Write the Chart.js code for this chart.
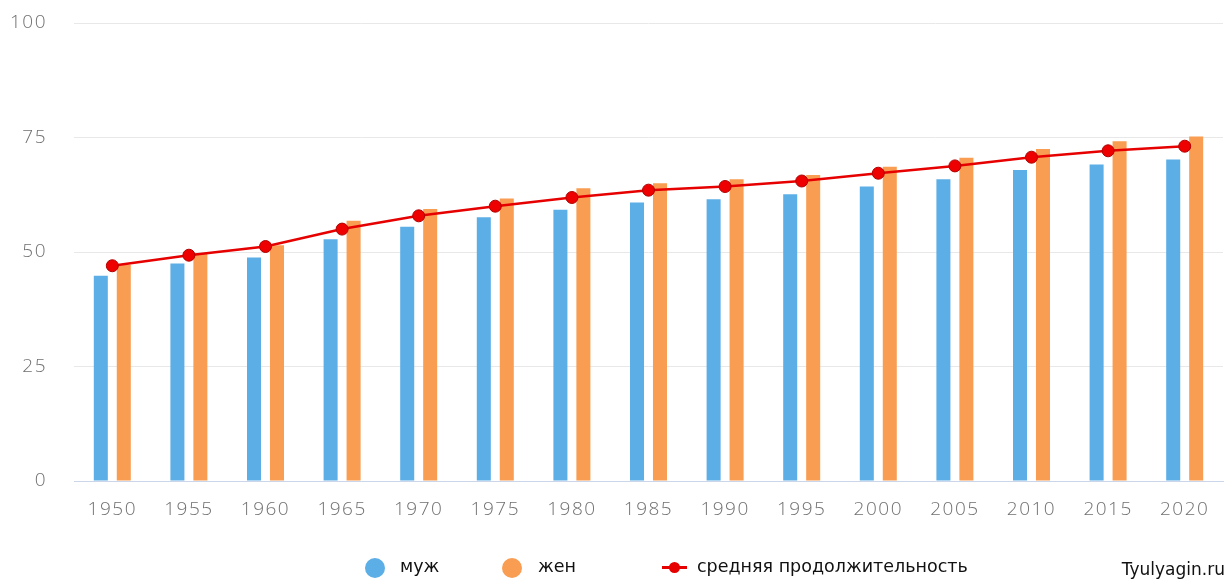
<!DOCTYPE html>
<html lang="ru">
<head>
    <meta charset="UTF-8">
    <title>Средняя продолжительность жизни</title>
    <script src="https://cdn.jsdelivr.net/npm/chart.js"></script>
    <style>
        body {
            margin: 0;
            background: #fff;
            font-family: "DejaVu Sans", Verdana, sans-serif;
        }
        .wrap {
            position: relative;
            width: 1231px;
            height: 587px;
        }
        .legend-item {
            position: absolute;
            top: 556px;
            height: 20px;
            line-height: 20px;
            font-size: 17.5px;
            color: #111;
            white-space: nowrap;
        }
        .dot {
            position: absolute;
            top: 2px;
            width: 20px;
            height: 20px;
            border-radius: 50%;
        }
        .line-mark {
            position: absolute;
            top: 10px;
            width: 25px;
            height: 3px;
            background: #e60000;
        }
        .line-mark::after {
            content: "";
            position: absolute;
            left: 7px;
            top: -4px;
            width: 11px;
            height: 11px;
            border-radius: 50%;
            background: #e60000;
        }
        .brand {
            position: absolute;
            right: 6px;
            top: 559px;
            font-size: 17px;
            color: #111;
        }
    </style>
</head>
<body>
    <div class="wrap">
        <canvas id="chart" width="1231" height="587"></canvas>
        <span class="dot" style="left:365px;top:558px;background:#5caee6"></span>
        <div class="legend-item" style="left:400px">муж</div>
        <span class="dot" style="left:502px;top:558px;background:#f99d52"></span>
        <div class="legend-item" style="left:538px">жен</div>
        <span class="line-mark" style="left:662px;top:566px"></span>
        <div class="legend-item" style="left:697px">средняя продолжительность</div>
        <div class="brand">Tyulyagin.ru</div>
    </div>

    <script>
        // Data
        const years = ['1950', '1955', '1960', '1965', '1970', '1975', '1980', '1985',
                       '1990', '1995', '2000', '2005', '2010', '2015', '2020'];
        const male = [44.8, 47.5, 48.8, 52.8, 55.5, 57.6, 59.2, 60.8, 61.5, 62.6, 64.3, 65.9, 67.9, 69.1, 70.2];
        const female = [47.2, 49.7, 51.5, 56.8, 59.4, 61.7, 63.9, 65.0, 65.9, 66.8, 68.6, 70.6, 72.5, 74.2, 75.2];
        const average = [47.0, 49.3, 51.2, 55.0, 57.9, 60.0, 61.9, 63.5, 64.3, 65.5, 67.2, 68.8, 70.7, 72.1, 73.1];
        const yTicks = [0, 25, 50, 75, 100];

        const tickFont = { family: 'Open Sans', size: 19, weight: 300 };

        // wider letter spacing for the axis labels
        const spacing = {
            id: 'spacing',
            beforeDraw(chart) { chart.ctx.letterSpacing = '1.5px'; },
            afterDraw(chart) { chart.ctx.letterSpacing = '0px'; }
        };

        const ctx = document.getElementById('chart').getContext('2d');
        new Chart(ctx, {
            type: 'bar',
            data: {
                labels: years,
                datasets: [
                    {
                        type: 'line',
                        label: 'средняя продолжительность',
                        data: average,
                        borderColor: '#e60000',
                        borderWidth: 2.5,
                        backgroundColor: '#ee0000',
                        pointRadius: 6,
                        pointBorderColor: '#b00000',
                        pointBorderWidth: 1,
                        tension: 0,
                        order: 0
                    },
                    {
                        label: 'муж',
                        data: male,
                        backgroundColor: '#5caee6',
                        categoryPercentage: 0.6,
                        barPercentage: 0.61,
                        order: 1
                    },
                    {
                        label: 'жен',
                        data: female,
                        backgroundColor: '#f99d52',
                        categoryPercentage: 0.6,
                        barPercentage: 0.61,
                        order: 1
                    }
                ]
            },
            options: {
                responsive: false,
                animation: false,
                layout: {
                    padding: { top: 23, right: 8, bottom: 56, left: 0 }
                },
                plugins: {
                    legend: { display: false },
                    tooltip: { enabled: false }
                },
                scales: {
                    x: {
                        grid: { display: false, drawTicks: false },
                        border: { color: '#ccd6eb', width: 1 },
                        ticks: {
                            color: '#707070',
                            padding: 17,
                            font: tickFont
                        },
                        afterFit: function(axis) { axis.height = 50; }
                    },
                    y: {
                        min: 0,
                        max: 100,
                        afterBuildTicks: function(axis) {
                            axis.ticks = yTicks.map(v => ({ value: v }));
                        },
                        grid: { color: '#e8e8e8', drawTicks: false },
                        border: { display: false },
                        ticks: {
                            color: '#707070',
                            padding: 27,
                            font: tickFont
                        },
                        afterFit: function(axis) {
                            axis.width = 74;
                            axis.paddingTop = 0;
                            axis.paddingBottom = 0;
                        }
                    }
                }
            },
            plugins: [spacing]
        });
    </script>
</body>
</html>
